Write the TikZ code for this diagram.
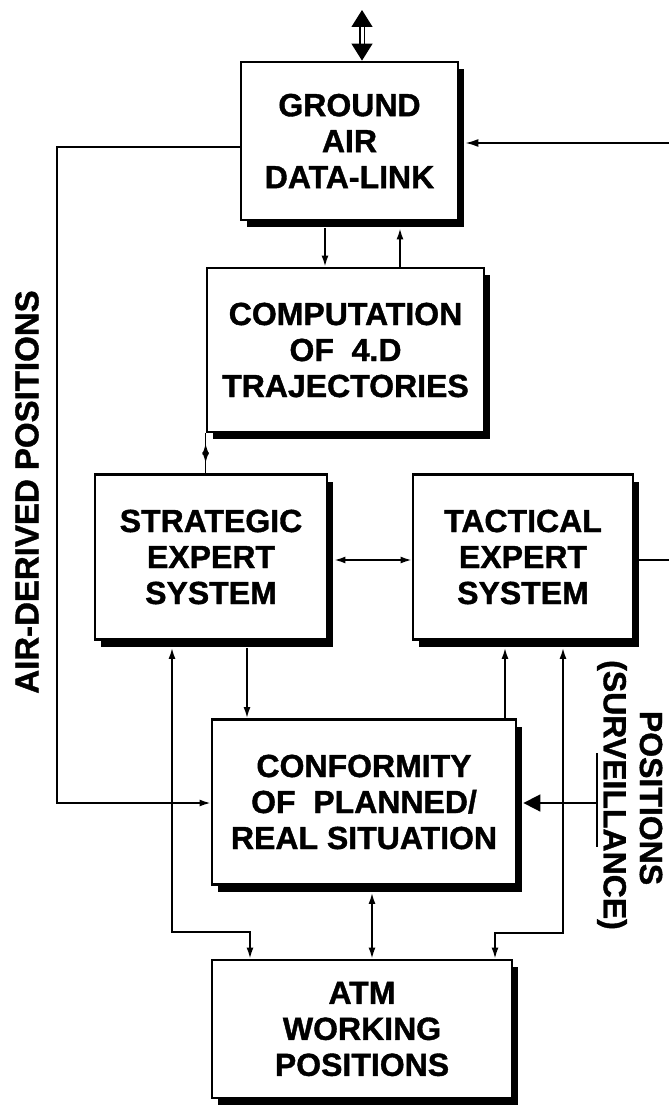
\documentclass[tikz,border=0pt]{standalone}
\usepackage{fontspec}
\setmainfont{Liberation Sans}[BoldFeatures={FakeBold=1.2}]
\usetikzlibrary{arrows.meta,shadows}
\begin{document}
\begin{tikzpicture}[x=1pt,y=-1pt,
  box/.style={draw, line width=2.8pt, fill=white, align=center, inner sep=0pt,
    font=\fontsize{32}{36}\selectfont\bfseries,
    drop shadow={shadow xshift=6pt, shadow yshift=-7pt, fill=black, opacity=1}},
  conn/.style={line width=1.7pt},
  arr/.style={conn, -{Latex[length=11pt,width=7pt]}},
  darr/.style={conn, {Latex[length=11pt,width=7pt]}-{Latex[length=11pt,width=7pt]}},
  lab/.style={font=\fontsize{32}{36}\selectfont\bfseries, inner sep=0pt}]
\useasboundingbox (0,0) rectangle (669,1108);

% boxes
\node[box, minimum width=217pt, minimum height=158pt] (g) at (349.5,141) {GROUND\\AIR\\DATA-LINK};
\node[box, minimum width=277pt, minimum height=164pt] (cp) at (345.5,350) {COMPUTATION\\OF\ \ 4.D\\TRAJECTORIES};
\node[box, minimum width=232pt, minimum height=165pt] (s) at (211,557) {STRATEGIC\\EXPERT\\SYSTEM};
\node[box, minimum width=220pt, minimum height=165pt] (t) at (523,557) {TACTICAL\\EXPERT\\SYSTEM};
\node[box, minimum width=304pt, minimum height=165pt] (cf) at (364,802) {CONFORMITY\\OF\ \ PLANNED/\\REAL SITUATION};
\node[box, minimum width=300pt, minimum height=138pt] (atm) at (362,1029) {ATM\\WORKING\\POSITIONS};

% labels
\node[lab, rotate=90, font=\fontsize{33}{36}\selectfont\bfseries] (adp) at (27,492) {AIR-DERIVED POSITIONS};
\node[lab, rotate=-90] (pos) at (651,798) {POSITIONS};
\node[lab, rotate=-90] (surv) at (612,795) {(SURVEILLANCE)};

% helper coordinates
\coordinate (gs) at ([yshift=-7pt]g.south);
\coordinate (ge) at ([xshift=6pt]g.east);
\coordinate (se) at ([xshift=6pt]s.east);
\coordinate (ss) at ([yshift=-7pt]s.south);
\coordinate (ts) at ([yshift=-7pt]t.south);
\coordinate (cfs) at ([yshift=-7pt]cf.south);
\coordinate (cfe) at ([xshift=6pt]cf.east);
\coordinate (top) at (362,10);
\coordinate (a1) at (57,147);
\coordinate (a2) at (57,803);
\coordinate (r1) at (669,143);
\coordinate (r2) at (669,560);
\coordinate (xa) at (325,0);
\coordinate (xb) at (400,0);
\coordinate (xc) at (247,0);
\coordinate (xd) at (505,0);
\coordinate (xm) at (372,0);
\coordinate (xt) at (362,0);
\coordinate (l1) at (172,932);
\coordinate (l2) at (250,932);
\coordinate (r3) at (563,933);
\coordinate (r4) at (495,933);
\coordinate (sv) at (597,803);
\coordinate (sv1) at (597,753);
\coordinate (sv2) at (597,847);

% top double arrow
\draw[line width=1.3pt, double distance=3pt,
  {Triangle[length=17pt,width=21pt]}-{Triangle[length=17pt,width=21pt]}] (top) -- (g.north -| xt);

% connectors
\draw[arr] (a1 -| g.west) -- (a1) -- (a2) -- (a2 -| cf.west);
\draw[conn, -{Latex[length=13pt,width=8pt]}] (r1) -- (r1 -| ge);
\draw[conn] (r2 -| t.east) -- (r2);
\draw[darr] (r2 -| se) -- (r2 -| t.west);
\draw[arr] (gs -| xa) -- (cp.north -| xa);
\draw[arr] (cp.north -| xb) -- (gs -| xb);
\draw[conn] (cp.south west) -- (s.north -| cp.west);
\path (cp.south west) -- (s.north -| cp.west) coordinate[pos=.5] (cm);
\draw[arr] (cm) -- ++(0,-10);
\draw[arr] (cm) -- ++(0,10);
\draw[arr] (ss -| xc) -- (cf.north -| xc);
\draw[darr] (ss -| l1) -- (l1) -- (l2) -- (atm.north -| l2);
\draw[arr] (cf.north -| xd) -- (ts -| xd);
\draw[darr] (ts -| r3) -- (r3) -- (r4) -- (atm.north -| r4);
\draw[darr] (cfs -| xm) -- (atm.north -| xm);
\draw[conn, -{Triangle[length=17pt,width=17pt]}] (sv) -- (sv -| cfe);
\draw[conn] (sv1) -- (sv2);
\end{tikzpicture}
\end{document}
